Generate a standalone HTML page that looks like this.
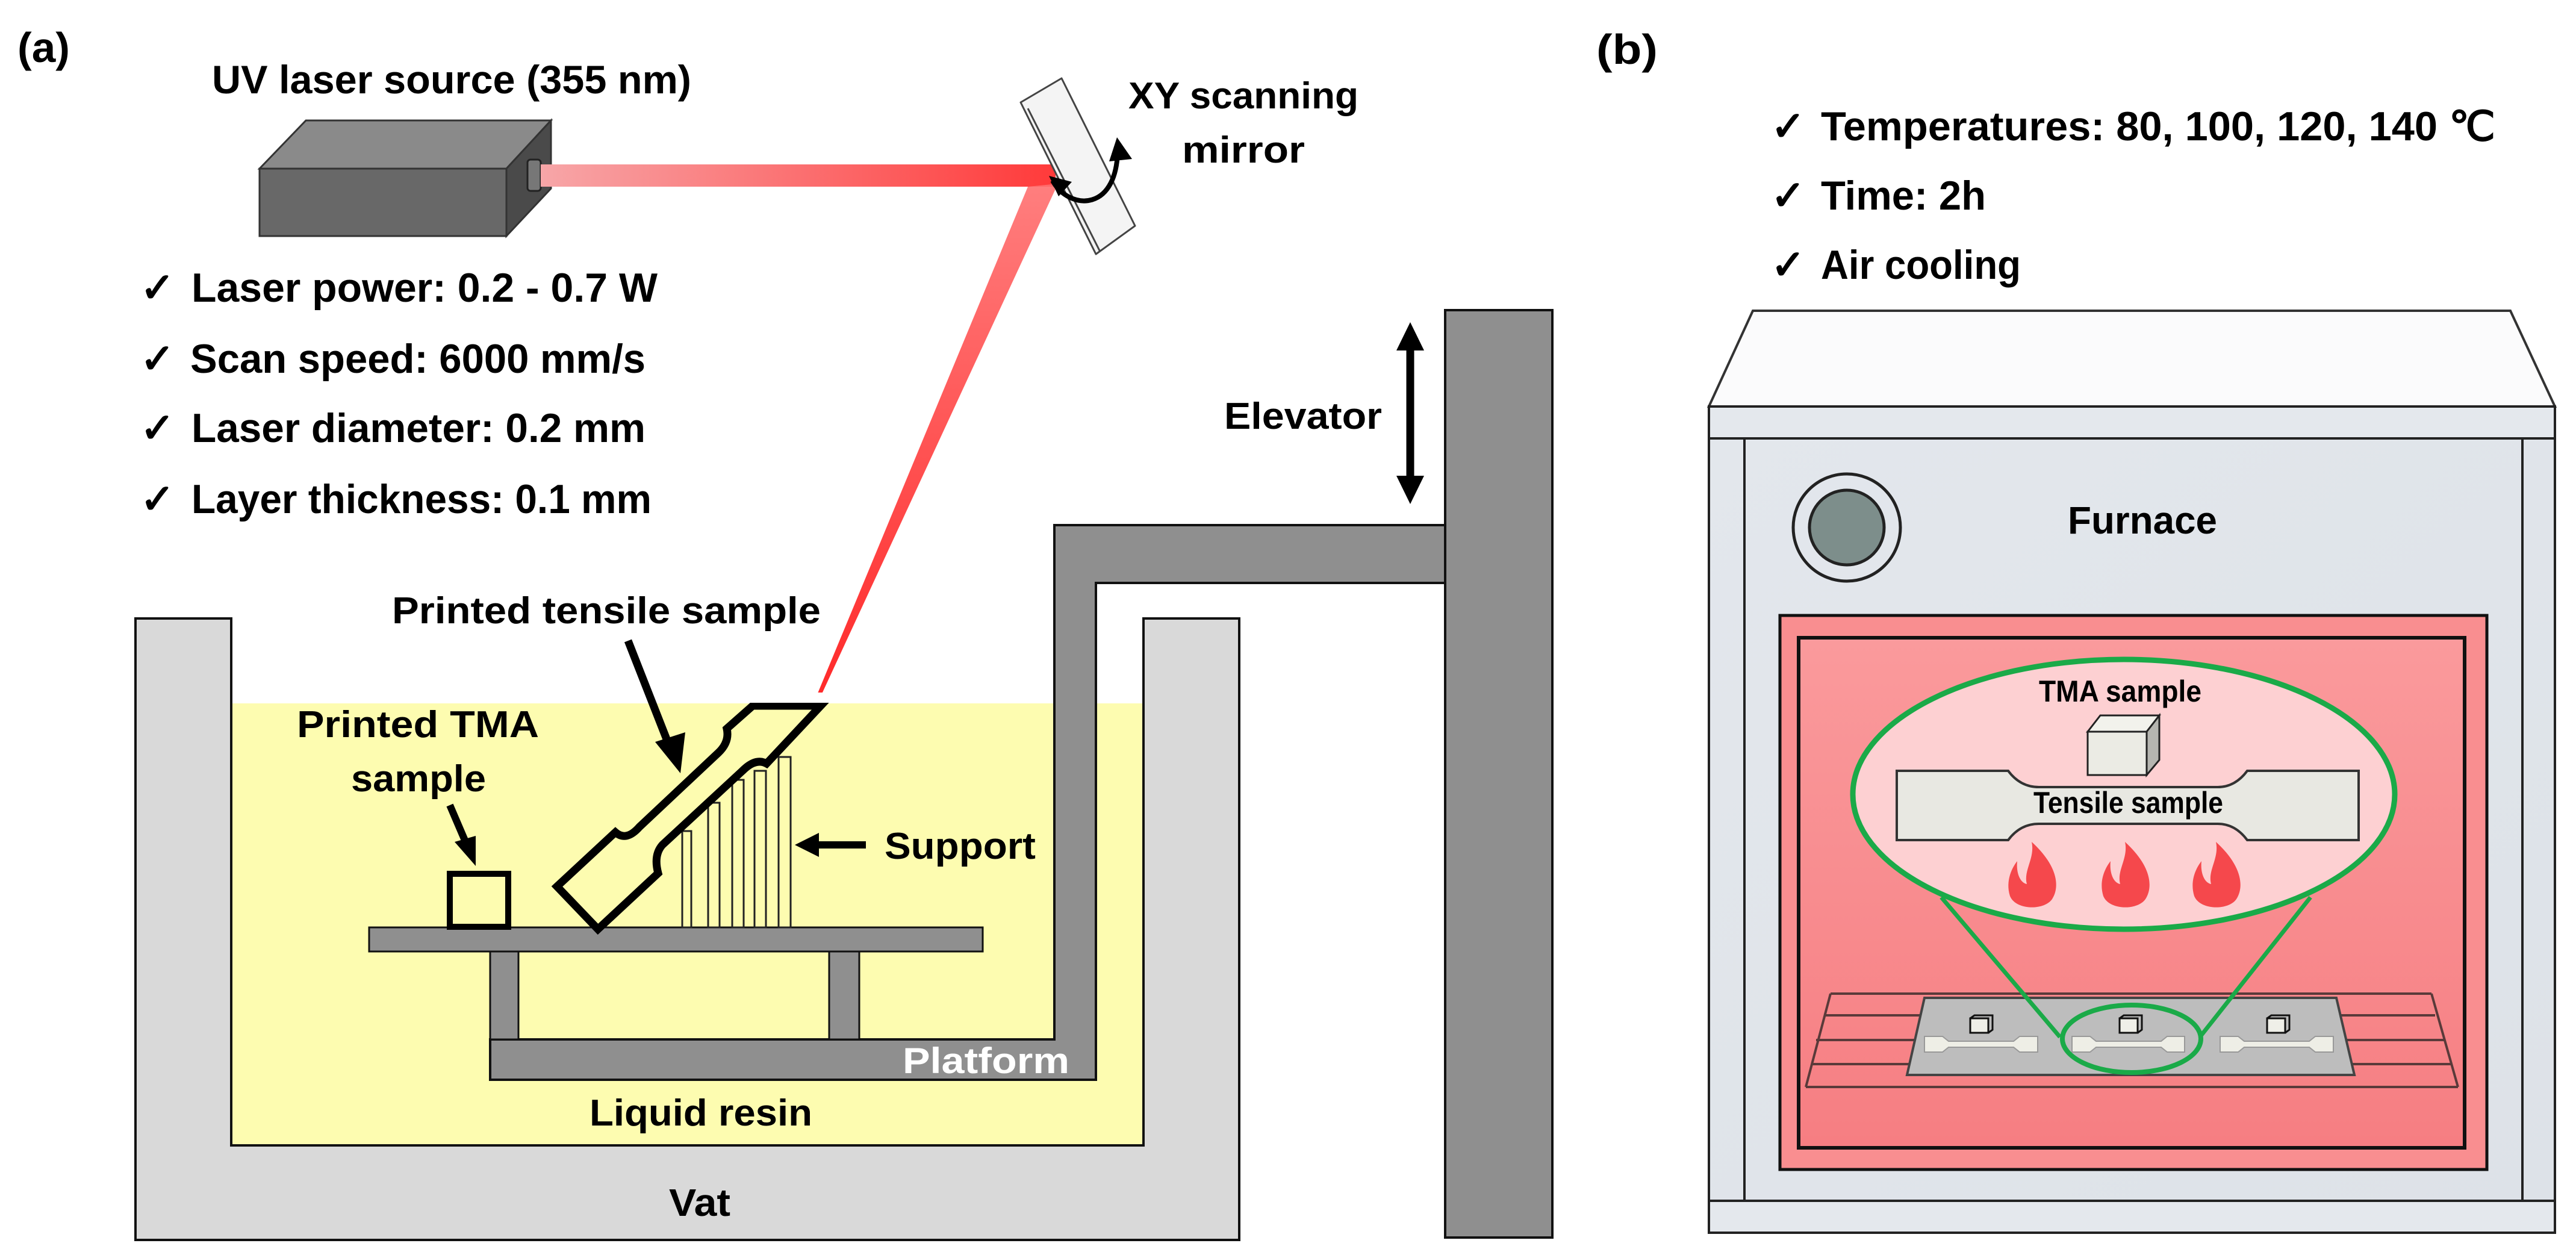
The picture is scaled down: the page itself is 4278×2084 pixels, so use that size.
<!DOCTYPE html>
<html><head><meta charset="utf-8"><style>
html,body{margin:0;padding:0;background:#fff;}
svg{display:block;}
text{font-family:"Liberation Sans",sans-serif;font-weight:bold;fill:#000;}
</style></head><body>
<svg width="4278" height="2084" viewBox="0 0 4278 2084" xmlns="http://www.w3.org/2000/svg">
<defs>
<linearGradient id="beamH" x1="0" y1="0" x2="1" y2="0">
<stop offset="0" stop-color="#f7a6a8"/><stop offset="1" stop-color="#ff3a3a"/></linearGradient>
<linearGradient id="beamD" x1="0" y1="0" x2="0" y2="1">
<stop offset="0" stop-color="#ff7070"/><stop offset="1" stop-color="#ff1010"/></linearGradient>
<linearGradient id="redIn" x1="0" y1="0" x2="0" y2="1">
<stop offset="0" stop-color="#fa9a9c"/><stop offset="1" stop-color="#f67e82"/></linearGradient>
<linearGradient id="body" x1="0" y1="0" x2="1" y2="1">
<stop offset="0" stop-color="#e3e7ec"/><stop offset="1" stop-color="#dde2e8"/></linearGradient>
</defs>

<!-- (a) -->
<text x="29" y="103" font-size="70" textLength="87" lengthAdjust="spacingAndGlyphs">(a)</text>
<text x="352" y="155" font-size="66" textLength="796" lengthAdjust="spacingAndGlyphs">UV laser source (355 nm)</text>

<!-- laser box -->
<polygon points="431,280 508,200 915,200 841,280" fill="#8a8a8a" stroke="#333" stroke-width="3"/>
<polygon points="841,280 915,200 915,313 841,392" fill="#4a4a4a" stroke="#333" stroke-width="3"/>
<rect x="431" y="280" width="410" height="112" fill="#686868" stroke="#333" stroke-width="3"/>
<rect x="876" y="265" width="22" height="52" rx="5" fill="#777" stroke="#222" stroke-width="3"/>

<!-- beams -->
<rect x="898" y="273" width="855" height="37" fill="url(#beamH)"/>
<polygon points="1707,310 1757,305 1352,1180 1346,1180" fill="url(#beamD)" opacity="0.9"/>

<!-- mirror -->
<polygon points="1695,170 1763,130 1885,375 1820,422" fill="#f4f4f4" stroke="#444" stroke-width="3" stroke-linejoin="round"/>
<line x1="1707" y1="180" x2="1827" y2="418" stroke="#444" stroke-width="3"/>
<path d="M1748,300 C1775,350 1860,355 1856,238" fill="none" stroke="#000" stroke-width="8"/>
<polygon points="1742,292 1780,302 1758,326" fill="#000"/>
<polygon points="1855,228 1842,268 1880,264" fill="#000"/>
<text x="2065" y="180" font-size="62" text-anchor="middle" textLength="382" lengthAdjust="spacingAndGlyphs">XY scanning</text>
<text x="2065" y="270" font-size="62" text-anchor="middle" textLength="204" lengthAdjust="spacingAndGlyphs">mirror</text>

<!-- checklist a -->
<g font-size="68">
<text x="233" y="501" font-weight="normal">✓</text>
<text x="318" y="501" textLength="774" lengthAdjust="spacingAndGlyphs">Laser power: 0.2 - 0.7 W</text>
<text x="233" y="619" font-weight="normal">✓</text>
<text x="316" y="619" textLength="756" lengthAdjust="spacingAndGlyphs">Scan speed: 6000 mm/s</text>
<text x="233" y="734" font-weight="normal">✓</text>
<text x="318" y="734" textLength="754" lengthAdjust="spacingAndGlyphs">Laser diameter: 0.2 mm</text>
<text x="233" y="852" font-weight="normal">✓</text>
<text x="318" y="852" textLength="764" lengthAdjust="spacingAndGlyphs">Layer thickness: 0.1 mm</text>
</g>

<!-- vat -->
<path d="M225,1027 H384 V1902 H1899 V1027 H2058 V2059 H225 Z" fill="#d9d9d9" stroke="#111" stroke-width="4"/>
<rect x="386" y="1168" width="1511" height="732" fill="#fdfcb0"/>
<line x1="384" y1="1027" x2="384" y2="1902" stroke="#111" stroke-width="4"/>
<line x1="1899" y1="1027" x2="1899" y2="1902" stroke="#111" stroke-width="4"/>
<line x1="384" y1="1902" x2="1899" y2="1902" stroke="#111" stroke-width="4"/>

<!-- elevator -->
<rect x="2400" y="515" width="178" height="1540" fill="#8f8f8f" stroke="#111" stroke-width="4"/>
<polygon points="1751,872 2400,872 2400,968 1820,968 1820,1793 814,1793 814,1726 1751,1726" fill="#8f8f8f" stroke="#111" stroke-width="4"/>
<rect x="814" y="1580" width="47" height="146" fill="#8f8f8f" stroke="#111" stroke-width="3"/>
<rect x="1377" y="1580" width="50" height="146" fill="#8f8f8f" stroke="#111" stroke-width="3"/>
<rect x="613" y="1540" width="1019" height="40" fill="#8f8f8f" stroke="#111" stroke-width="3"/>
<line x1="2342" y1="575" x2="2342" y2="800" stroke="#000" stroke-width="13"/>
<polygon points="2342,535 2319,582 2365,582" fill="#000"/>
<polygon points="2342,837 2319,790 2365,790" fill="#000"/>
<text x="2033" y="712" font-size="62" textLength="262" lengthAdjust="spacingAndGlyphs">Elevator</text>

<text x="1499" y="1782" font-size="60" fill="#fff" style="fill:#fff" textLength="277" lengthAdjust="spacingAndGlyphs">Platform</text>
<text x="979" y="1869" font-size="62" textLength="370" lengthAdjust="spacingAndGlyphs">Liquid resin</text>
<text x="1111" y="2019" font-size="64" textLength="102" lengthAdjust="spacingAndGlyphs">Vat</text>

<!-- supports -->
<g fill="#fdfcb0" stroke="#222" stroke-width="3">
<rect x="1133" y="1380" width="15" height="160"/>
<rect x="1176" y="1333" width="19" height="207"/>
<rect x="1216" y="1295" width="19" height="245"/>
<rect x="1253" y="1280" width="19" height="260"/>
<rect x="1293" y="1257" width="20" height="283"/>
</g>

<!-- tensile sample -->
<path d="M925,1472 L1022,1382 Q1040,1398 1062,1373 L1193,1250 Q1212,1232 1207,1210 L1250,1172 L1363,1172 L1273,1268 Q1255,1258 1233,1280 L1100,1403 Q1085,1420 1093,1450 L993,1543 Z" fill="#fdfcb0" stroke="#000" stroke-width="13" stroke-linejoin="miter"/>
<rect x="1240" y="1150" width="140" height="17" fill="#fff"/>

<!-- TMA square -->
<rect x="747" y="1451" width="97" height="88" fill="none" stroke="#000" stroke-width="10"/>

<!-- arrows/labels -->
<text x="651" y="1035" font-size="62" textLength="712" lengthAdjust="spacingAndGlyphs">Printed tensile sample</text>
<line x1="1043" y1="1064" x2="1112" y2="1240" stroke="#000" stroke-width="13"/>
<polygon points="1130,1284 1088,1232 1138,1216" fill="#000"/>
<text x="493" y="1224" font-size="62" textLength="402" lengthAdjust="spacingAndGlyphs">Printed TMA</text>
<text x="583" y="1314" font-size="62" textLength="224" lengthAdjust="spacingAndGlyphs">sample</text>
<line x1="747" y1="1337" x2="774" y2="1400" stroke="#000" stroke-width="12"/>
<polygon points="790,1438 755,1398 790,1388" fill="#000"/>
<line x1="1438" y1="1403" x2="1355" y2="1403" stroke="#000" stroke-width="12"/>
<polygon points="1320,1403 1360,1383 1360,1423" fill="#000"/>
<text x="1469" y="1426" font-size="62" textLength="251" lengthAdjust="spacingAndGlyphs">Support</text>

<!-- (b) -->
<text x="2651" y="106" font-size="70" textLength="102" lengthAdjust="spacingAndGlyphs">(b)</text>
<g font-size="68">
<text x="2941" y="233" font-weight="normal">✓</text>
<text x="3024" y="233" textLength="1120" lengthAdjust="spacingAndGlyphs">Temperatures: 80, 100, 120, 140 ℃</text>
<text x="2941" y="348" font-weight="normal">✓</text>
<text x="3024" y="348" textLength="274" lengthAdjust="spacingAndGlyphs">Time: 2h</text>
<text x="2941" y="463" font-weight="normal">✓</text>
<text x="3024" y="463" textLength="332" lengthAdjust="spacingAndGlyphs">Air cooling</text>
</g>

<!-- furnace -->
<polygon points="2911,516 4169,516 4243,675 2838,675" fill="#fbfbfc" stroke="#333" stroke-width="4"/>
<rect x="2838" y="675" width="1405" height="53" fill="#e4e8ed" stroke="#222" stroke-width="4"/>
<rect x="2838" y="728" width="1405" height="1266" fill="url(#body)" stroke="#222" stroke-width="4"/>
<line x1="2897" y1="728" x2="2897" y2="1994" stroke="#222" stroke-width="4"/>
<line x1="4189" y1="728" x2="4189" y2="1994" stroke="#222" stroke-width="4"/>
<rect x="2838" y="1994" width="1405" height="53" fill="#e4e8ed" stroke="#222" stroke-width="4"/>
<circle cx="3067" cy="876" r="89" fill="none" stroke="#222" stroke-width="5"/>
<circle cx="3067" cy="876" r="62" fill="#7d8e8b" stroke="#222" stroke-width="5"/>
<text x="3434" y="886" font-size="64" textLength="248" lengthAdjust="spacingAndGlyphs">Furnace</text>

<rect x="2956" y="1022" width="1174" height="920" fill="#f98e90" stroke="#111" stroke-width="5"/>
<rect x="2987" y="1059" width="1106" height="847" fill="url(#redIn)" stroke="#111" stroke-width="6"/>

<!-- rack -->
<g stroke="#5a3a3a" stroke-width="4" fill="none">
<line x1="3040" y1="1650" x2="4038" y2="1650"/>
<line x1="3030" y1="1686" x2="4044" y2="1686"/>
<line x1="3016" y1="1727" x2="4060" y2="1727"/>
<line x1="3008" y1="1767" x2="4070" y2="1767"/>
<line x1="2999" y1="1805" x2="4082" y2="1805"/>
<line x1="3040" y1="1650" x2="2999" y2="1805"/>
<line x1="4038" y1="1650" x2="4082" y2="1805"/>
</g>
<polygon points="3196,1657 3880,1657 3910,1785 3167,1785" fill="#bdbdbd" stroke="#444" stroke-width="4"/>
<g fill="#eeeee6" stroke="#999" stroke-width="2">
<path d="M3196,1721 H3226 L3236,1729 H3344 L3354,1721 H3384 V1747 H3354 L3344,1739 H3236 L3226,1747 H3196 Z"/>
<path d="M3441,1721 H3471 L3481,1729 H3589 L3599,1721 H3628 V1747 H3599 L3589,1739 H3481 L3471,1747 H3441 Z"/>
<path d="M3687,1721 H3717 L3727,1729 H3835 L3845,1721 H3875 V1747 H3845 L3835,1739 H3727 L3717,1747 H3687 Z"/>
</g>
<g fill="#efefe8" stroke="#111" stroke-width="3">
<rect x="3272" y="1691" width="30" height="24"/><polyline points="3272,1691 3279,1686 3309,1686 3309,1710 3302,1715" fill="none"/>
<rect x="3520" y="1691" width="30" height="24"/><polyline points="3520,1691 3527,1686 3557,1686 3557,1710 3550,1715" fill="none"/>
<rect x="3765" y="1691" width="30" height="24"/><polyline points="3765,1691 3772,1686 3802,1686 3802,1710 3795,1715" fill="none"/>
</g>

<!-- magnifier -->
<line x1="3224" y1="1490" x2="3421" y2="1722" stroke="#1aaa48" stroke-width="7"/>
<line x1="3837" y1="1490" x2="3655" y2="1720" stroke="#1aaa48" stroke-width="7"/>
<ellipse cx="3540" cy="1725" rx="115" ry="56" fill="none" stroke="#1aaa48" stroke-width="8"/>
<ellipse cx="3527" cy="1319" rx="450" ry="224" fill="#fdd0d2" stroke="#1aaa48" stroke-width="9"/>
<text x="3386" y="1165" font-size="50" textLength="270" lengthAdjust="spacingAndGlyphs">TMA sample</text>
<polygon points="3467,1215 3488,1188 3586,1188 3565,1215" fill="#f2f2ec" stroke="#222" stroke-width="3"/>
<polygon points="3565,1215 3586,1188 3586,1262 3565,1287" fill="#b5b5b0" stroke="#222" stroke-width="3"/>
<rect x="3467" y="1215" width="98" height="72" fill="#ebebe4" stroke="#222" stroke-width="3"/>
<path d="M3150,1280 H3335 Q3355,1307 3386,1307 H3683 Q3712,1307 3732,1280 H3917 V1395 H3732 Q3712,1368 3683,1368 H3386 Q3355,1368 3335,1395 H3150 Z" fill="#e8e8e2" stroke="#333" stroke-width="4"/>
<text x="3377" y="1350" font-size="50" textLength="315" lengthAdjust="spacingAndGlyphs">Tensile sample</text>
<g fill="#f5484c">
<path d="M3374,1398 C3420,1440 3420,1475 3408,1493 C3395,1512 3348,1512 3338,1488 C3330,1462 3342,1440 3350,1430 C3348,1450 3355,1466 3366,1468 C3360,1445 3380,1425 3374,1398 Z"/>
<path d="M3529,1398 C3575,1440 3575,1475 3563,1493 C3550,1512 3503,1512 3493,1488 C3485,1462 3497,1440 3505,1430 C3503,1450 3510,1466 3521,1468 C3515,1445 3535,1425 3529,1398 Z"/>
<path d="M3680,1398 C3726,1440 3726,1475 3714,1493 C3701,1512 3654,1512 3644,1488 C3636,1462 3648,1440 3656,1430 C3654,1450 3661,1466 3672,1468 C3666,1445 3686,1425 3680,1398 Z"/>
</g>
</svg>
</body></html>
